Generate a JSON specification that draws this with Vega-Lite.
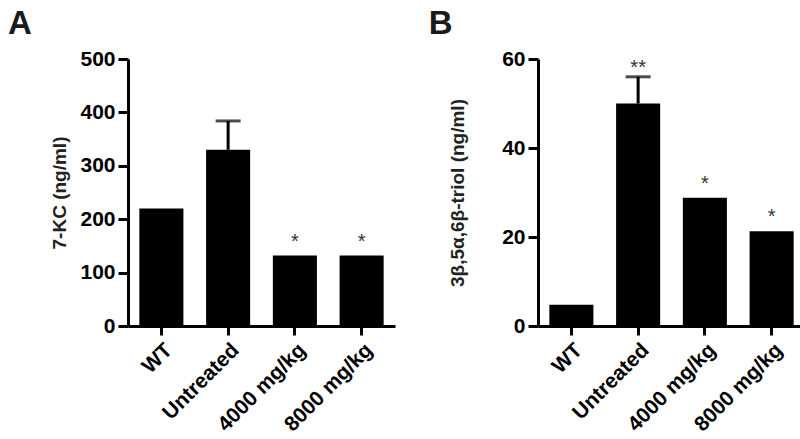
{
  "$schema": "https://vega.github.io/schema/vega-lite/v6.json",
  "background": "white",
  "padding": {"left": 7, "top": 8, "right": 5, "bottom": 0},
  "config": {
    "view": {"stroke": null},
    "font": "Liberation Sans",
    "axis": {
      "domainColor": "black", "domainWidth": 3, "tickColor": "black", "tickWidth": 3,
      "labelColor": "black", "labelFont": "Liberation Sans", "labelFontWeight": "bold", "labelFontSize": 21,
      "titleColor": "#222", "titleFont": "Liberation Sans", "titleFontWeight": "bold", "titleFontSize": 19,
      "grid": false
    },
    "title": {"fontSize": 33, "fontWeight": "bold", "font": "Liberation Sans", "anchor": "start", "frame": "bounds", "color": "#1a1a1a"}
  },
  "datasets": {
    "a": [
      {"group": "WT", "value": 220, "upper": null, "star": null},
      {"group": "Untreated", "value": 330, "upper": 384, "star": null},
      {"group": "4000 mg/kg", "value": 132, "upper": null, "star": "*"},
      {"group": "8000 mg/kg", "value": 132, "upper": null, "star": "*"}
    ],
    "b": [
      {"group": "WT", "value": 4.8, "upper": null, "star": null},
      {"group": "Untreated", "value": 50, "upper": 56, "star": "**"},
      {"group": "4000 mg/kg", "value": 28.8, "upper": null, "star": "*"},
      {"group": "8000 mg/kg", "value": 21.3, "upper": null, "star": "*"}
    ]
  },
  "spacing": 33,
  "hconcat": [
    {
      "width": 267, "height": 267,
      "title": {"text": "A", "dx": -43, "dy": -3},
      "data": {"name": "a"},
      "encoding": {
        "x": {"field": "group", "type": "nominal", "sort": null,
          "scale": {"paddingInner": 0.34, "paddingOuter": 0.17},
          "axis": {"title": null, "labelAngle": -45, "tickSize": 9, "labelPadding": 4}}
      },
      "layer": [
        {"mark": {"type": "bar", "color": "black"},
         "encoding": {"y": {"field": "value", "type": "quantitative",
           "scale": {"domain": [0, 500], "nice": false},
           "axis": {"title": "7-KC (ng/ml)", "values": [0, 100, 200, 300, 400, 500], "tickSize": 10, "labelPadding": 3, "titlePadding": 10}}}},
        {"transform": [{"filter": "datum.upper != null"}],
         "mark": {"type": "rule", "color": "black", "strokeWidth": 3},
         "encoding": {"y": {"field": "value", "type": "quantitative"}, "y2": {"field": "upper"}}},
        {"transform": [{"filter": "datum.upper != null"}],
         "mark": {"type": "tick", "color": "black", "size": 25, "thickness": 3},
         "encoding": {"y": {"field": "upper", "type": "quantitative"}}},
        {"transform": [{"filter": "datum.star != null && datum.upper == null"}],
         "mark": {"type": "text", "color": "#333", "fontSize": 20, "baseline": "alphabetic", "dy": -8},
         "encoding": {"y": {"field": "value", "type": "quantitative"}, "text": {"field": "star"}}}
      ]
    },
    {
      "width": 267, "height": 267,
      "title": {"text": "B", "dx": -20, "dy": -3},
      "data": {"name": "b"},
      "encoding": {
        "x": {"field": "group", "type": "nominal", "sort": null,
          "scale": {"paddingInner": 0.34, "paddingOuter": 0.17},
          "axis": {"title": null, "labelAngle": -45, "tickSize": 9, "labelPadding": 4}}
      },
      "layer": [
        {"mark": {"type": "bar", "color": "black"},
         "encoding": {"y": {"field": "value", "type": "quantitative",
           "scale": {"domain": [0, 60], "nice": false},
           "axis": {"title": "3β,5α,6β-triol (ng/ml)", "values": [0, 20, 40, 60], "tickSize": 10, "labelPadding": 3, "titlePadding": 34}}}},
        {"transform": [{"filter": "datum.upper != null"}],
         "mark": {"type": "rule", "color": "black", "strokeWidth": 3},
         "encoding": {"y": {"field": "value", "type": "quantitative"}, "y2": {"field": "upper"}}},
        {"transform": [{"filter": "datum.upper != null"}],
         "mark": {"type": "tick", "color": "black", "size": 25, "thickness": 3},
         "encoding": {"y": {"field": "upper", "type": "quantitative"}}},
        {"transform": [{"filter": "datum.star != null && datum.upper == null"}],
         "mark": {"type": "text", "color": "#333", "fontSize": 20, "baseline": "alphabetic", "dy": -8},
         "encoding": {"y": {"field": "value", "type": "quantitative"}, "text": {"field": "star"}}},
        {"transform": [{"filter": "datum.star != null && datum.upper != null"}],
         "mark": {"type": "text", "color": "#333", "fontSize": 20, "baseline": "alphabetic", "dy": -3},
         "encoding": {"y": {"field": "upper", "type": "quantitative"}, "text": {"field": "star"}}}
      ]
    }
  ]
}
